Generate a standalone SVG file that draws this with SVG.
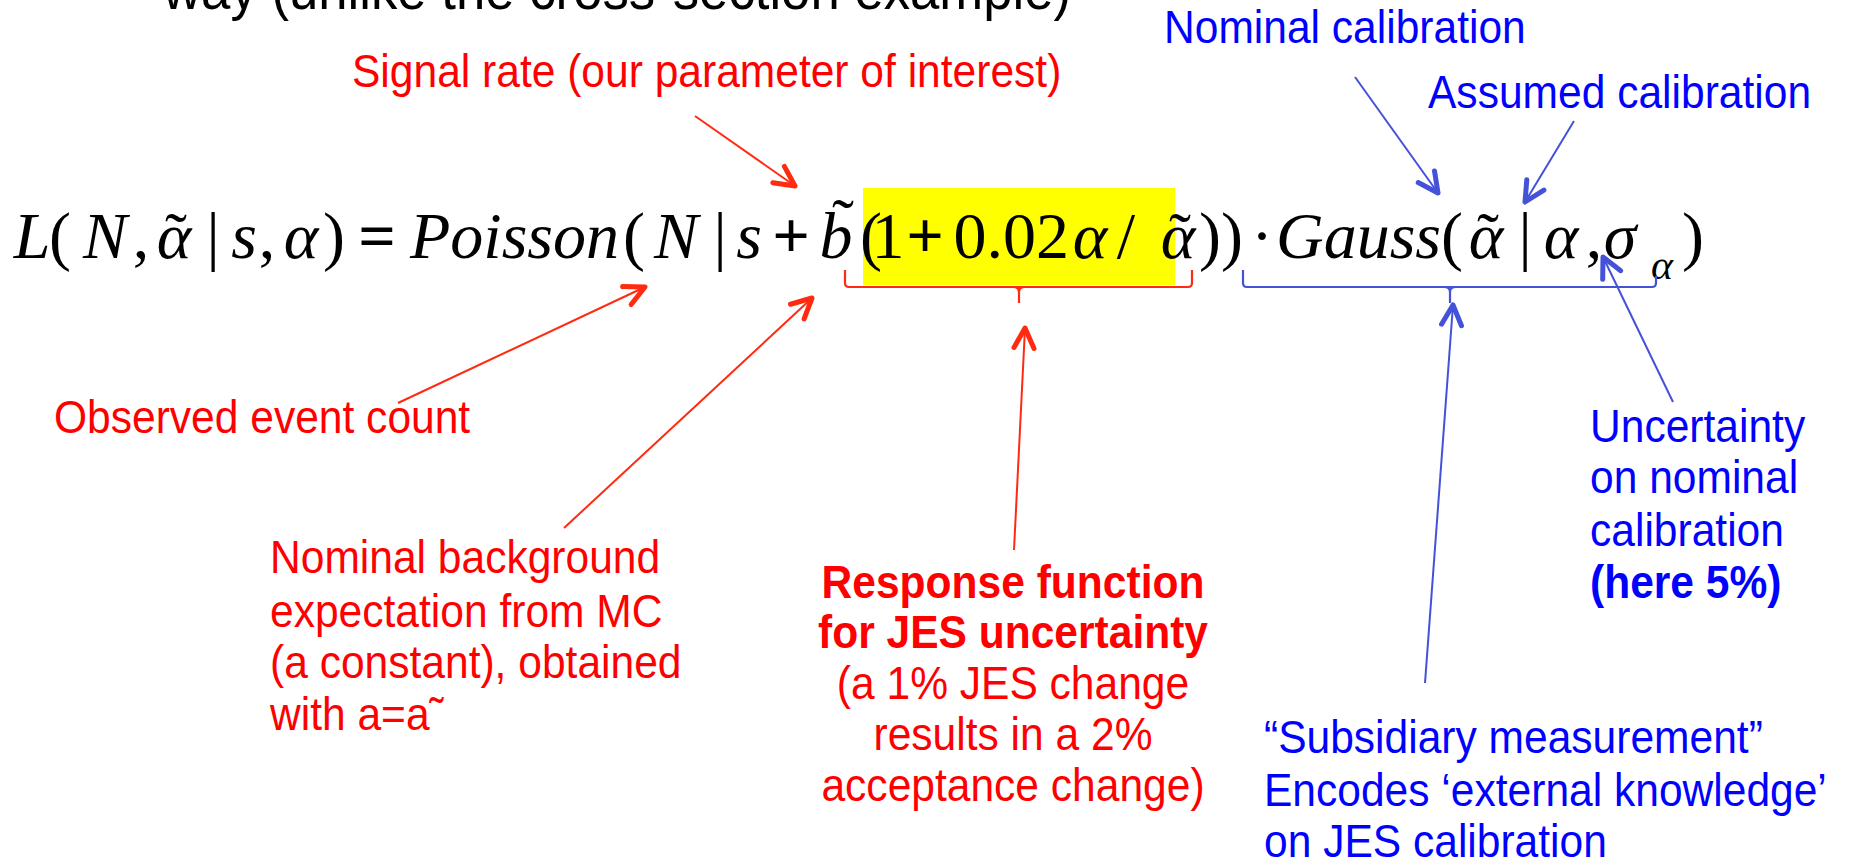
<svg xmlns="http://www.w3.org/2000/svg" width="1870" height="863" viewBox="0 0 1870 863">
<style>
.sans{font-family:"Liberation Sans",Arial,Helvetica,sans-serif;font-size:46px}
.red{fill:#ff0000}
.blue{fill:#0000ff}
.b{font-weight:bold}
.math{font-family:"Liberation Serif","Times New Roman",serif;font-size:66px;fill:#000;text-anchor:middle}
.it{font-style:italic}
.st{text-anchor:start}
.cr{stroke:#ff2a10;stroke-width:2;fill:none;marker-end:url(#ahR)}
.cb{stroke:#4352d9;stroke-width:2;fill:none;marker-end:url(#ahB)}
.brR{stroke:#ff2a10;stroke-width:2.2;fill:none}
.brB{stroke:#4352d9;stroke-width:2.2;fill:none}
</style>
<defs>
<marker id="ahR" markerUnits="userSpaceOnUse" viewBox="-26 -16 32 32" refX="0" refY="0" markerWidth="32" markerHeight="32" orient="auto">
<path d="M-20,-10 L0,0 L-20,10" fill="none" stroke="#ff2a10" stroke-width="5" stroke-linecap="round" stroke-linejoin="round"/>
</marker>
<marker id="ahB" markerUnits="userSpaceOnUse" viewBox="-26 -16 32 32" refX="0" refY="0" markerWidth="32" markerHeight="32" orient="auto">
<path d="M-20,-10 L0,0 L-20,10" fill="none" stroke="#4352d9" stroke-width="5" stroke-linecap="round" stroke-linejoin="round"/>
</marker>
</defs>
<rect width="1870" height="863" fill="#fff"/>

<g id="title">
<text class="sans" style="font-size:57px" fill="#000" transform="translate(163,9) scale(0.925,1)">way (unlike the cross-section example)</text>
</g>

<g id="equation">
<rect x="863" y="188" width="312" height="97" fill="#ffff00"/>
<text class="math it" x="32" y="258">L</text>
<text class="math" x="60" y="258">(</text>
<text class="math it" x="105" y="258">N</text>
<text class="math" x="141" y="258">,</text>
<text class="math"><tspan class="it" x="174" y="258">α</tspan><tspan x="176" y="258">˜</tspan></text>
<text class="math" x="213" y="258">|</text>
<text class="math it" x="244" y="258">s</text>
<text class="math" x="267" y="258">,</text>
<text class="math it" x="301" y="258">α</text>
<text class="math" x="334" y="258">)</text>
<text class="math b" x="377" y="258">=</text>
<text class="math it st" x="410" y="258">Poisson</text>
<text class="math" x="634" y="258">(</text>
<text class="math it" x="676" y="258">N</text>
<text class="math" x="720" y="258">|</text>
<text class="math it" x="749" y="258">s</text>
<text class="math b" x="791" y="258">+</text>
<text class="math"><tspan class="it" x="836" y="258">b</tspan><tspan x="843" y="244">˜</tspan></text>
<text class="math" x="871" y="258">(</text>
<text class="math" x="888" y="258">1</text>
<text class="math b" x="925" y="258">+</text>
<text class="math st" x="953.5" y="258">0.02</text>
<text class="math it" x="1090" y="258">α</text>
<text class="math" x="1126" y="258">/</text>
<text class="math"><tspan class="it" x="1178" y="258">α</tspan><tspan x="1180" y="258">˜</tspan></text>
<text class="math" x="1210" y="258">)</text>
<text class="math" x="1232" y="258">)</text>
<text class="math" x="1262" y="258">·</text>
<text class="math it st" x="1276" y="258">Gauss</text>
<text class="math" x="1452" y="258">(</text>
<text class="math"><tspan class="it" x="1486" y="258">α</tspan><tspan x="1488" y="258">˜</tspan></text>
<text class="math" x="1525" y="258">|</text>
<text class="math it" x="1561" y="258">α</text>
<text class="math" x="1594" y="258">,</text>
<text class="math it" x="1620" y="258">σ</text>
<text class="math it" style="font-size:42px" x="1662" y="279">α</text>
<text class="math" x="1693" y="258">)</text>
</g>

<g id="signal-rate">
<text class="sans red" transform="translate(352,87) scale(0.925,1)">Signal rate (our parameter of interest)</text>
</g>

<g id="nominal-calibration">
<text class="sans blue" transform="translate(1164,43) scale(0.925,1)">Nominal calibration</text>
</g>

<g id="assumed-calibration">
<text class="sans blue" transform="translate(1428,108) scale(0.925,1)">Assumed calibration</text>
</g>

<g id="observed-event-count">
<text class="sans red" transform="translate(54,433) scale(0.925,1)">Observed event count</text>
</g>

<g id="nominal-background">
<text class="sans red" transform="translate(270,0) scale(0.925,1)"><tspan x="0" y="573">Nominal background</tspan><tspan x="0" y="627">expectation from MC</tspan><tspan x="0" y="678">(a constant), obtained</tspan><tspan x="0" y="730">with a=a˜</tspan></text>
</g>

<g id="response-function">
<text class="sans red" text-anchor="middle" transform="translate(1013,0) scale(0.925,1)"><tspan class="b" x="0" y="598">Response function</tspan><tspan class="b" x="0" y="648">for JES uncertainty</tspan><tspan x="0" y="699">(a 1% JES change</tspan><tspan x="0" y="750">results in a 2%</tspan><tspan x="0" y="801">acceptance change)</tspan></text>
</g>

<g id="uncertainty">
<text class="sans blue" transform="translate(1590,0) scale(0.925,1)"><tspan x="0" y="442">Uncertainty</tspan><tspan x="0" y="493">on nominal</tspan><tspan x="0" y="546">calibration</tspan><tspan class="b" x="0" y="598">(here 5%)</tspan></text>
</g>

<g id="subsidiary-measurement">
<text class="sans blue" transform="translate(1264,0) scale(0.925,1)"><tspan x="0" y="753">“Subsidiary measurement”</tspan><tspan x="0" y="806">Encodes ‘external knowledge’</tspan><tspan x="0" y="857">on JES calibration</tspan></text>
</g>

<g id="connectors">
<path class="brR" d="M845,270 V283 Q845,287 849,287 H1188 Q1192,287 1192,283 V270 M1013,287 Q1019,287 1019,292 V303 M1025,287 Q1019,287 1019,292"/>
<path class="brB" d="M1243,270 V283 Q1243,287 1247,287 H1652 Q1656,287 1656,283 V276 M1444,287 Q1450,287 1450,292 V303 M1456,287 Q1450,287 1450,292"/>
<line class="cr" x1="695" y1="116" x2="795" y2="186"/>
<line class="cr" x1="398" y1="403" x2="645" y2="287"/>
<line class="cr" x1="564" y1="528" x2="812" y2="298"/>
<line class="cr" x1="1014" y1="550" x2="1025" y2="328"/>
<line class="cb" x1="1355" y1="77" x2="1438" y2="193"/>
<line class="cb" x1="1574" y1="121" x2="1525" y2="202"/>
<line class="cb" x1="1673" y1="402" x2="1603" y2="257"/>
<line class="cb" x1="1425" y1="683" x2="1453" y2="305"/>
</g>
</svg>
